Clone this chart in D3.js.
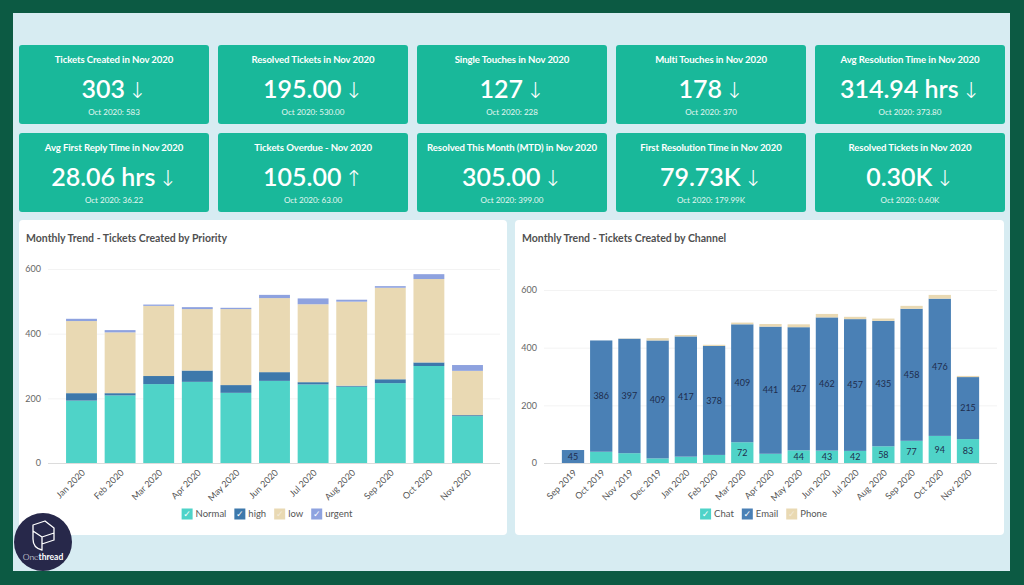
<!DOCTYPE html>
<html><head><meta charset="utf-8">
<script src="https://cdn.jsdelivr.net/npm/d3@7"></script>
<style>
body{margin:0;background:#0c5a43;}
svg{display:block;font-family:Lato,'Open Sans',sans-serif;}
</style>
</head><body><svg id="c" width="1024" height="585"></svg>
<script>
const kpiTitles = ["Tickets Created in Nov 2020","Resolved Tickets in Nov 2020","Single Touches in Nov 2020","Multi Touches in Nov 2020","Avg Resolution Time in Nov 2020",
  "Avg First Reply Time in Nov 2020","Tickets Overdue - Nov 2020","Resolved This Month (MTD) in Nov 2020","First Resolution Time in Nov 2020","Resolved Tickets in Nov 2020"];
const kpiValues = ["303","195.00","127","178","314.94 hrs","28.06 hrs","105.00","305.00","79.73K","0.30K"];
const kpiArrows = ["↓","↓","↓","↓","↓","↓","↑","↓","↓","↓"];
const kpiPrev = ["Oct 2020: 583","Oct 2020: 530.00","Oct 2020: 228","Oct 2020: 370","Oct 2020: 373.80",
  "Oct 2020: 36.22","Oct 2020: 63.00","Oct 2020: 399.00","Oct 2020: 179.99K","Oct 2020: 0.60K"];

const priorityMonths = ["Jan 2020","Feb 2020","Mar 2020","Apr 2020","May 2020","Jun 2020","Jul 2020","Aug 2020","Sep 2020","Oct 2020","Nov 2020"];
const priorityKeys = ["Normal","high","low","urgent"];
const normalVals = [193,209,244,251,217,254,243,236,247,300,145];
const highVals   = [23,7,25,35,24,27,7,3,12,11,3];
const lowVals    = [223,188,217,190,235,229,241,260,283,258,137];
const urgentVals = [7,7,4,6,4,10,18,6,5,15,18];

const channelMonths = ["Sep 2019","Oct 2019","Nov 2019","Dec 2019","Jan 2020","Feb 2020","Mar 2020","Apr 2020","May 2020","Jun 2020","Jul 2020","Aug 2020","Sep 2020","Oct 2020","Nov 2020"];
const channelKeys = ["Chat","Email","Phone"];
const chatVals  = [0,39,34,16,22,28,72,32,44,43,42,58,77,94,83];
const emailVals = [45,386,397,409,417,378,409,441,427,462,457,435,458,476,215];
const phoneVals = [0,0,1,8,5,4,6,9,10,12,8,8,10,13,4];

const yTicks = [0,200,400,600];
const chatLabelMin = 40;

const svg = d3.select("#c");
svg.append("rect").attr("x",13).attr("y",13).attr("width",997).attr("height",558).attr("fill","#d7ecf2");

// KPI cards
const cardW = 190, cardH = 79, gapX = 9;
kpiTitles.forEach((t,i)=>{
  const col = i%5, row = Math.floor(i/5);
  const x = 19 + col*(cardW+gapX), y = row===0 ? 45 : 133;
  const g = svg.append("g").attr("transform",`translate(${x},${y})`);
  g.append("rect").attr("width",cardW).attr("height",cardH).attr("rx",3).attr("fill","#19b89a");
  g.append("text").attr("x",cardW/2).attr("y",15).attr("dy","0.35em").attr("text-anchor","middle")
    .attr("fill","#fff").attr("font-size",9.6).attr("font-weight","bold").attr("letter-spacing",-0.1).text(t);
  const v = g.append("text").attr("x",cardW/2).attr("y",44).attr("dy","0.35em").attr("text-anchor","middle")
    .attr("fill","#fff").attr("font-size",25).attr("font-weight","600");
  v.append("tspan").text(kpiValues[i]);
  v.append("tspan").attr("dx",3).attr("font-weight","300").attr("font-family","'DejaVu Sans'").attr("font-size",22).text(kpiArrows[i]);
  g.append("text").attr("x",cardW/2).attr("y",67).attr("dy","0.35em").attr("text-anchor","middle")
    .attr("fill","#e6f7f2").attr("font-size",8).text(kpiPrev[i]);
});

function stackedChart(opt){
  const {px, months, keys, series, colors, title, yTop, axisX, axisRight, bandL, bandR, pad, labels} = opt;
  const g = svg.append("g");
  g.append("rect").attr("x",px).attr("y",220).attr("width",opt.pw).attr("height",315).attr("rx",4).attr("fill","#fff");
  g.append("text").attr("x",px+7).attr("y",238).attr("dy","0.35em").attr("fill","#505050")
    .attr("font-size",10.5).attr("font-weight","bold").text(title);
  const y = d3.scaleLinear().domain([0,600]).range([463,yTop]);
  const x = d3.scaleBand().domain(months).range([bandL,bandR]).paddingInner(pad).paddingOuter(pad/2);
  const ya = g.append("g").attr("transform",`translate(${axisX},0)`)
    .call(d3.axisLeft(y).tickValues(yTicks).tickSizeInner(-(axisRight-axisX)).tickSizeOuter(0).tickPadding(7));
  ya.select(".domain").remove();
  ya.selectAll(".tick line").attr("stroke",d=>d===0?"#dcdcdc":"#f3f3f3");
  ya.selectAll(".tick text").attr("fill","#666").attr("font-size",9).attr("font-family","Lato,sans-serif");
  const rows = months.map((m,i)=>{const o={m}; keys.forEach((k,j)=>o[k]=series[j][i]); return o;});
  const st = d3.stack().keys(keys)(rows);
  st.forEach((s,j)=>{
    g.append("g").selectAll("rect").data(s).join("rect")
      .attr("x",d=>x(d.data.m)).attr("width",x.bandwidth())
      .attr("y",d=>y(d[1])).attr("height",d=>Math.max(0,y(d[0])-y(d[1])))
      .attr("fill",colors[j]);
  });
  if(labels){
    st.forEach((s,j)=>{
      if(!labels[j]) return;
      g.append("g").selectAll("text").data(s.filter(d=>labels[j](d[1]-d[0]))).join("text")
        .attr("x",d=>x(d.data.m)+x.bandwidth()/2).attr("y",d=>(y(d[0])+y(d[1]))/2).attr("dy","0.35em")
        .attr("text-anchor","middle").attr("font-size",9).attr("fill","#1e2d4d").text(d=>d[1]-d[0]);
    });
  }
  const xa = g.append("g").attr("transform","translate(0,463)").call(d3.axisBottom(x).tickSize(0));
  xa.select(".domain").remove();
  xa.selectAll(".tick text").attr("font-size",9).attr("fill","#555").attr("font-family","Lato,sans-serif")
    .attr("text-anchor","end").attr("y",0).attr("dy","0.35em").attr("transform","translate(2,8) rotate(-45)");
  const lg = g.append("g");
  let cx = 0;
  keys.forEach((k,j)=>{
    const it = lg.append("g").attr("transform",`translate(${cx},0)`);
    it.append("rect").attr("width",11).attr("height",11).attr("y",-5.5).attr("fill",colors[j]);
    it.append("text").attr("x",5.5).attr("y",0).attr("dy","0.35em").attr("text-anchor","middle").attr("fill","#fff")
      .attr("font-size",9).attr("font-family","'DejaVu Sans'").attr("opacity",j===2?0.5:1).text("✓");
    const t = it.append("text").attr("x",14).attr("y",0).attr("dy","0.35em").attr("font-size",9.5).attr("fill","#555").text(k);
    cx += 14 + t.node().getComputedTextLength() + 8;
  });
  const lw = cx - 8;
  lg.attr("transform",`translate(${px+opt.pw/2-lw/2+4},514)`);
}

stackedChart({px:19,pw:488,months:priorityMonths,keys:priorityKeys,series:[normalVals,highVals,lowVals,urgentVals],
  colors:["#4fd3c8","#3d78ab","#e9d9b3","#8ea2df"],title:"Monthly Trend - Tickets Created by Priority",
  yTop:269,axisX:48,axisRight:500,bandL:62.2,bandR:486.8,pad:0.2});
stackedChart({px:515,pw:489,months:channelMonths,keys:channelKeys,series:[chatVals,emailVals,phoneVals],
  colors:["#4fd3c8","#4a80b5","#e9d9b3"],title:"Monthly Trend - Tickets Created by Channel",
  yTop:290,axisX:544,axisRight:997,bandL:558.9,bandR:982.1,pad:0.21,
  labels:[v=>v>=chatLabelMin, v=>v>0, null]});

// logo
const lo = svg.append("g").attr("transform","translate(43,542)");
lo.append("circle").attr("r",29).attr("fill","#27284a");
lo.append("path").attr("d","M-10,-17 L2,-21 L11,-14 L11,-9 L-1,-5 L-10,-11 Z M-10,-11 L-10,-3 Q-10,6 -1,8 L-1,-5 M11,-9 L11,-2 L-1,2")
  .attr("fill","none").attr("stroke","#fff").attr("stroke-width",1.3).attr("stroke-linejoin","round");
const lt = lo.append("text").attr("x",0).attr("y",15).attr("dy","0.35em").attr("text-anchor","middle").attr("fill","#fff").attr("font-size",8.5);
lt.append("tspan").attr("font-weight","300").text("One");
lt.append("tspan").attr("font-weight","bold").text("thread");
</script>
</body></html>
